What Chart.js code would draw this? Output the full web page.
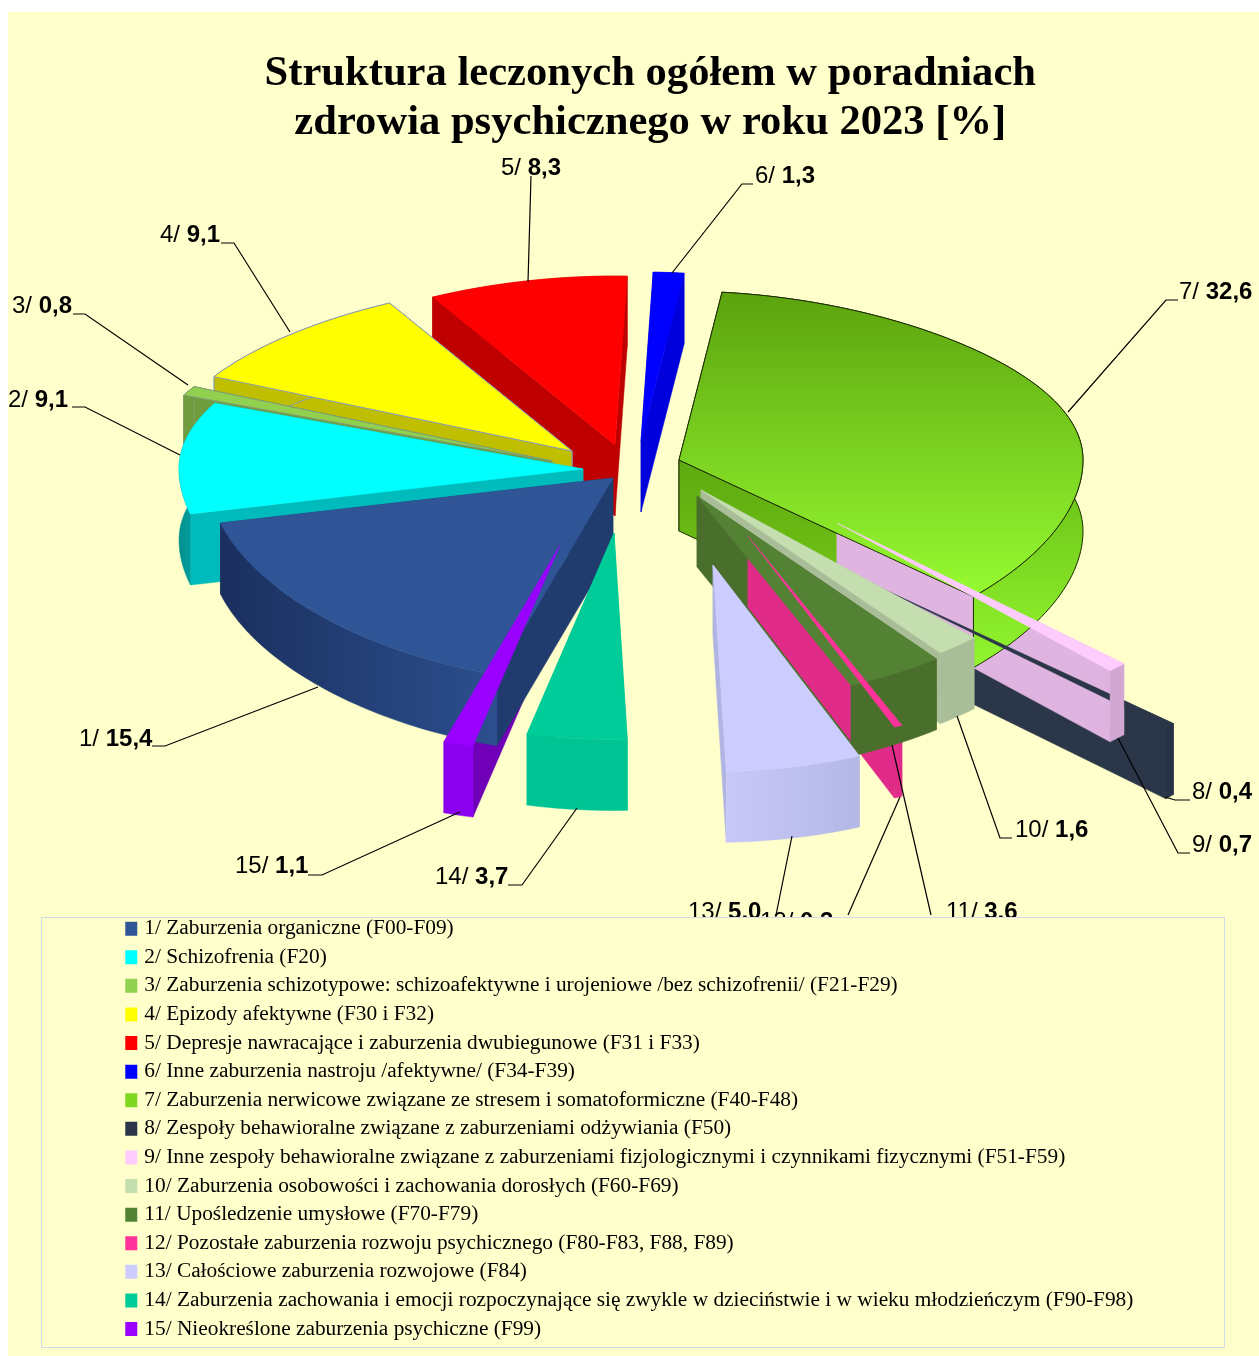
<!DOCTYPE html>
<html lang="pl">
<head>
<meta charset="utf-8">
<title>Struktura leczonych</title>
<script src="https://cdn.jsdelivr.net/npm/chart.js@4"></script>
<style>
  html, body { margin: 0; padding: 0; background: #fff; }
  #wrap { position: relative; width: 1259px; height: 1356px; }
</style>
</head>
<body>
<div id="wrap"><canvas id="chart"></canvas></div>
<script>
const titleLines = ['Struktura leczonych ogółem w poradniach', 'zdrowia psychicznego w roku 2023 [%]'];
const categories = [
  '1/ Zaburzenia organiczne (F00-F09)',
  '2/ Schizofrenia (F20)',
  '3/ Zaburzenia schizotypowe: schizoafektywne i urojeniowe /bez schizofrenii/ (F21-F29)',
  '4/ Epizody afektywne (F30 i F32)',
  '5/ Depresje nawracające i zaburzenia dwubiegunowe (F31 i F33)',
  '6/ Inne zaburzenia nastroju /afektywne/ (F34-F39)',
  '7/ Zaburzenia nerwicowe związane ze stresem i somatoformiczne (F40-F48)',
  '8/ Zespoły behawioralne związane z zaburzeniami odżywiania (F50)',
  '9/ Inne zespoły behawioralne związane z zaburzeniami fizjologicznymi i czynnikami fizycznymi (F51-F59)',
  '10/ Zaburzenia osobowości i zachowania dorosłych (F60-F69)',
  '11/ Upośledzenie umysłowe (F70-F79)',
  '12/ Pozostałe zaburzenia rozwoju psychicznego (F80-F83, F88, F89)',
  '13/ Całościowe zaburzenia rozwojowe (F84)',
  '14/ Zaburzenia zachowania i emocji rozpoczynające się zwykle w dzieciństwie i w wieku młodzieńczym (F90-F98)',
  '15/ Nieokreślone zaburzenia psychiczne (F99)'
];
const values = [15.4, 9.1, 0.8, 9.1, 8.3, 1.3, 32.6, 0.4, 0.7, 1.6, 3.6, 0.3, 5.0, 3.7, 1.1];

// styles per slice
const topColors = ['#2F5597', '#00FFFF', '#92D050', '#FFFF00', '#FF0000', '#0000FF', '#7FD81F', '#2B3648',
  '#FFCCFF', '#C5DEB0', '#548235', '#FF3399', '#CCCCFF', '#00CC99', '#9900FF'];
const sideColors = ['#203C6E', '#00BBBB', '#6F9C3C', '#BFBF00', '#BF0000', '#0000DD', '#5FA80F', '#2B3648',
  '#E0B4E0', '#A9BE98', '#4A6F2C', '#E02C88', '#B0B4E2', '#00C494', '#7000B8'];
const rimColors = [['#1A2F5E', '#2C4F8E'], ['#008F8F', '#00BBBB'], ['#6F9C3C', '#6F9C3C'], ['#BFBF00', '#BFBF00'],
  ['#BF0000', '#BF0000'], ['#0000DD', '#0000DD'], ['#66BB11', '#66BB11'], ['#263245', '#263245'],
  ['#D2A8D2', '#D2A8D2'], ['#A9BE98', '#A9BE98'], ['#4A6F2C', '#4A6F2C'], ['#E02C88', '#E02C88'],
  ['#C8C8F8', '#B4B8E4'], ['#00C494', '#00C494'], ['#8C00F0', '#8C00F0']];
const edgeColors = [null, null, '#7f9f70', '#8C9DB0', null, null, '#1c2c00', null, null, null, null, null, null, null, null];

// how far each slice is pulled out of the pie, in px from the pie centre
const explode = [[-17, 13], [-47, 4], [-78, -4], [-58, -14], [-15, -20], [11, -24], [49, -5], [249, 122],
  [207, 58], [71, 25], [67, 31], [118, 71], [83, 100], [-16, 68], [-70, 80]];

// painter order: slice number + faces (s = radial sides, r = rim, t = top)
const paintOrder = [[7, 's'], [8, 'sr'], [9, 's'], [7, 'rt'], [8, 't'], [9, 'rt'], [6, 'srt'], [5, 'srt'], [4, 'srt'], [3, 'srt'], [2, 'srt'],
  [15, 's'], [1, 'srt'], [15, 'rt'], [14, 'srt'], [10, 'srt'], [11, 's'], [12, 'sr'], [11, 'rt'], [12, 't'], [13, 'srt']];

// text box and leader line of each data label
const labelSpots = [
  { x: 79, y: 739, line: [[318, 687], [165, 746], [152, 746]] },
  { x: 8, y: 400, line: [[180, 455], [85, 407], [72, 407]] },
  { x: 12, y: 306, line: [[188, 385], [85, 314], [73, 314]] },
  { x: 160, y: 235, line: [[290, 332], [234, 243], [221, 243]] },
  { x: 501, y: 168, line: [[528, 282], [531, 176]] },
  { x: 755, y: 176, line: [[672, 273], [742, 184], [753, 184]] },
  { x: 1179, y: 292, line: [[1068, 412], [1166, 300], [1178, 300]] },
  { x: 1192, y: 792, line: [[1165, 797], [1175, 800], [1190, 800]] },
  { x: 1192, y: 845, line: [[1118, 738], [1178, 853], [1190, 853]] },
  { x: 1015, y: 830, line: [[957, 716], [1000, 838], [1012, 838]] },
  { x: 946, y: 912, line: [[892, 745], [931, 915]] },
  { x: 760, y: 922, line: [[900, 797], [848, 915]] },
  { x: 688, y: 912, line: [[792, 836], [776, 915]] },
  { x: 435, y: 877, line: [[577, 808], [522, 885], [508, 885]] },
  { x: 235, y: 866, line: [[460, 812], [322, 875], [308, 875]] }
];

const BG = '#FFFFCC';
const pieCenter = { x: 630, y: 465 };
const pieRadius = 404;
const tilt = 0.46;
const wallHeight = 71;

function project(slice, cosA, sinA, radius, down) {
  const v = sinA * radius;
  const sx = v < 0 ? 1 / (1 + 0.15 * v * v) : 1;
  const sy = 1 / (1 - 0.1 * v);
  return {
    x: pieCenter.x + explode[slice][0] + pieRadius * radius * cosA * sx,
    y: pieCenter.y + explode[slice][1] + pieRadius * tilt * v * sy + down
  };
}

function rimPoints(slice, arc, down) {
  const pts = [];
  const steps = Math.max(2, Math.ceil((arc.endAngle - arc.startAngle) * 40));
  for (let i = 0; i <= steps; i++) {
    const a = arc.startAngle + (arc.endAngle - arc.startAngle) * i / steps;
    pts.push(project(slice, Math.cos(a), Math.sin(a), 1, down));
  }
  return pts;
}

function fillPoly(ctx, pts, fill, edge) {
  ctx.beginPath();
  pts.forEach((p, i) => i ? ctx.lineTo(p.x, p.y) : ctx.moveTo(p.x, p.y));
  ctx.closePath();
  ctx.fillStyle = fill;
  ctx.fill();
  ctx.lineWidth = edge ? 1 : 0.5;
  ctx.strokeStyle = edge || fill;
  ctx.stroke();
}

function verticalGrad(ctx, y0, y1, c0, c1) {
  const g = ctx.createLinearGradient(0, y0, 0, y1);
  g.addColorStop(0, c0);
  g.addColorStop(1, c1);
  return g;
}

function paintSlice(ctx, slice, arc, faces) {
  const topRim = rimPoints(slice, arc, 0);
  const lowRim = rimPoints(slice, arc, wallHeight);
  const apex = project(slice, 1, 0, 0, 0);
  const apexLow = project(slice, 1, 0, 0, wallHeight);
  const isGreen = slice === 6;
  const edge = edgeColors[slice];

  if (faces.includes('s')) {
    const a = topRim[0], b = lowRim[0];
    const c = topRim[topRim.length - 1], d = lowRim[lowRim.length - 1];
    const side = isGreen ? verticalGrad(ctx, 440, 640, '#5AA50E', '#7ACF1A') : sideColors[slice];
    const sides = [[apex, a, b, apexLow], [apex, c, d, apexLow]];
    sides.sort((p, q) => p[1].y - q[1].y);
    sides.forEach(f => fillPoly(ctx, f, side, edge));
  }
  if (faces.includes('r')) {
    const xs = lowRim.map(p => p.x);
    const g = ctx.createLinearGradient(Math.min(...xs), 0, Math.max(...xs), 0);
    g.addColorStop(0, rimColors[slice][0]);
    g.addColorStop(1, rimColors[slice][1]);
    const fill = isGreen ? verticalGrad(ctx, 430, 660, '#62B410', '#90F42E') : g;
    fillPoly(ctx, topRim.concat(lowRim.slice().reverse()), fill, edge);
  }
  if (faces.includes('t')) {
    const fill = isGreen ? verticalGrad(ctx, 292, 610, '#5CA30E', '#99FF33') : topColors[slice];
    fillPoly(ctx, [apex].concat(topRim), fill, edge);
  }
}

// 3D pie, leader lines, data labels and legend frame; legend and title come after this
const pie3d = {
  id: 'pie3d',
  beforeDraw(chart) {
    const ctx = chart.ctx;
    const arcs = chart.getDatasetMeta(0).data;
    ctx.save();
    ctx.fillStyle = BG;
    ctx.fillRect(8, 12, 1251, 1344);

    paintOrder.forEach(([num, faces]) => paintSlice(ctx, num - 1, arcs[num - 1], faces));

    ctx.strokeStyle = '#000';
    ctx.lineWidth = 1.2;
    labelSpots.forEach(spot => {
      ctx.beginPath();
      spot.line.forEach((p, i) => i ? ctx.lineTo(p[0], p[1]) : ctx.moveTo(p[0], p[1]));
      ctx.stroke();
    });

    ctx.textBaseline = 'middle';
    ctx.fillStyle = '#000';
    values.forEach((v, i) => {
      const prefix = (i + 1) + '/ ';
      ctx.font = '24px "Liberation Sans"';
      ctx.fillText(prefix, labelSpots[i].x, labelSpots[i].y);
      const w = ctx.measureText(prefix).width;
      ctx.font = 'bold 24px "Liberation Sans"';
      ctx.fillText(v.toFixed(1).replace('.', ','), labelSpots[i].x + w, labelSpots[i].y);
    });

    // legend frame covers whatever labels run under it
    ctx.fillStyle = BG;
    ctx.fillRect(41, 917, 1183, 430);
    ctx.strokeStyle = '#D3DBEA';
    ctx.lineWidth = 1;
    ctx.strokeRect(41.5, 917.5, 1183, 430);
    ctx.restore();
  },
  beforeDatasetsDraw() {
    return false; // the slices are already painted in beforeDraw
  }
};

new Chart(document.getElementById('chart'), {
  type: 'pie',
  data: {
    labels: categories,
    datasets: [{ data: values, backgroundColor: topColors }]
  },
  options: {
    responsive: true,
    maintainAspectRatio: false,
    animation: false,
    rotation: 196.7,
    layout: { padding: { left: 121.6, right: 80, top: 49, bottom: 9 } },
    plugins: {
      tooltip: { enabled: false },
      title: {
        display: true,
        text: titleLines,
        color: '#000',
        font: { family: '"Liberation Serif"', size: 42.6, weight: 'bold', lineHeight: 1.15 },
        padding: 0
      },
      legend: {
        display: true,
        position: 'left',
        align: 'end',
        maxWidth: 1058,
        labels: {
          // box is a small rect with a thick same-colour stroke, keeps the text gap tight
          boxWidth: 4.8,
          boxHeight: 6.8,
          padding: 7.27,
          color: '#000',
          font: { family: '"Liberation Serif"', size: 21.33, lineHeight: 1 },
          generateLabels() {
            return categories.map((text, i) => ({
              text,
              index: i,
              fillStyle: topColors[i],
              strokeStyle: topColors[i],
              lineWidth: 7.2,
              hidden: false
            }));
          }
        }
      }
    }
  },
  plugins: [pie3d]
});
</script>
</body>
</html>
